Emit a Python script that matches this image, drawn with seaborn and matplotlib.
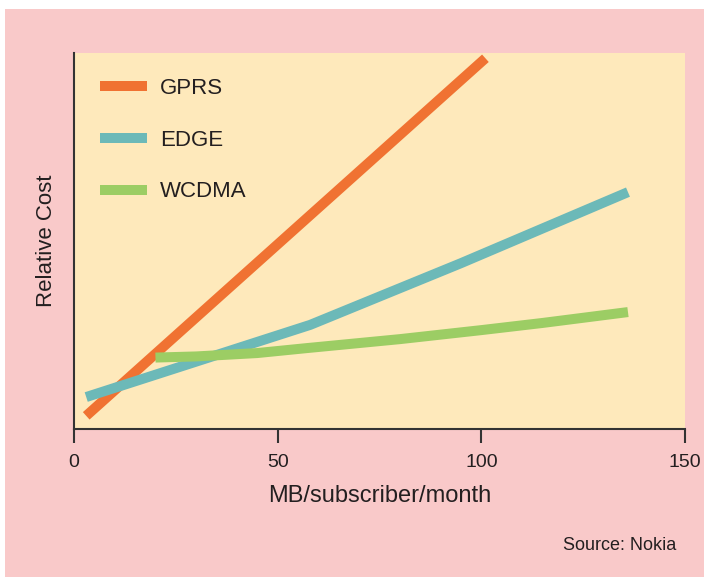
import matplotlib
matplotlib.use("Agg")
import matplotlib.pyplot as plt
import seaborn as sns
import pandas as pd
from matplotlib.patches import Rectangle
from matplotlib.lines import Line2D

# ---- data (relative cost, arbitrary 0-100 scale) ----
series_names = ["GPRS", "EDGE", "WCDMA"]
gprs_x = [3, 101]
gprs_y = [3.5, 98.6]
edge_x = [3, 58, 95, 136]
edge_y = [8.5, 27.7, 44.1, 63.0]
wcdma_x = [20, 30, 45, 57, 80, 100, 115, 136]
wcdma_y = [19.0, 19.3, 20.2, 21.5, 23.9, 26.3, 28.2, 31.1]
x_ticks = [0, 50, 100, 150]
colors = ["#f07232", "#6cb9b8", "#9ccd64"]

frames = []
for name, xs, ys in zip(series_names, [gprs_x, edge_x, wcdma_x], [gprs_y, edge_y, wcdma_y]):
    frames.append(pd.DataFrame({"x": xs, "y": ys, "series": name}))
df = pd.concat(frames, ignore_index=True)

sns.set_theme(style="white")
FONT = ["Liberation Sans", "DejaVu Sans"]
plt.rcParams["font.family"] = FONT
TXT = "#231f20"

W, H = 704, 579
fig = plt.figure(figsize=(W / 100, H / 100), dpi=100)
fig.patch.set_facecolor("white")
fig.patches.append(Rectangle((5 / W, 2 / H), (W - 5) / W, (577 - 9) / H,
                             transform=fig.transFigure, facecolor="#f9c9c9",
                             edgecolor="none", zorder=-10))

ax = fig.add_axes([74 / W, (H - 429) / H, (685 - 74) / W, (429 - 53) / H])
ax.set_facecolor("#fee9bb")

sns.lineplot(data=df, x="x", y="y", hue="series", hue_order=series_names,
             palette=colors, linewidth=7.2, ax=ax, legend=False, sort=False,
             solid_capstyle="butt", solid_joinstyle="round")

ax.set_xlim(0, 150)
ax.set_ylim(0, 100)
ax.set_xticks(x_ticks)
ax.set_xticklabels([str(t) for t in x_ticks], fontsize=14, color=TXT)
ax.set_yticks([])
for s in ["top", "right"]:
    ax.spines[s].set_visible(False)
for s in ["left", "bottom"]:
    ax.spines[s].set_color("#333333")
    ax.spines[s].set_linewidth(1.5)
ax.tick_params(axis="x", direction="out", length=10, width=1.5, color="#333333",
               pad=8, bottom=True)
ax.set_xlabel("MB/subscriber/month", fontsize=17, color=TXT, labelpad=10)
ax.set_ylabel("Relative Cost", fontsize=16, color=TXT, labelpad=12)

handles = [Line2D([0], [0], color=c, lw=7.2, solid_capstyle="butt") for c in colors]
leg = ax.legend(handles, series_names, loc="upper left",
                bbox_to_anchor=(26 / 611, 1 - 25 / 376), frameon=False,
                fontsize=16, handlelength=2.1, handletextpad=0.6,
                labelspacing=1.38, borderpad=0, borderaxespad=0)
for t in leg.get_texts():
    t.set_color(TXT)

fig.text(676 / W, 1 - 545 / H, "Source: Nokia", ha="right", va="center",
         fontsize=13, color=TXT)

fig.savefig("out.png", dpi=100)
